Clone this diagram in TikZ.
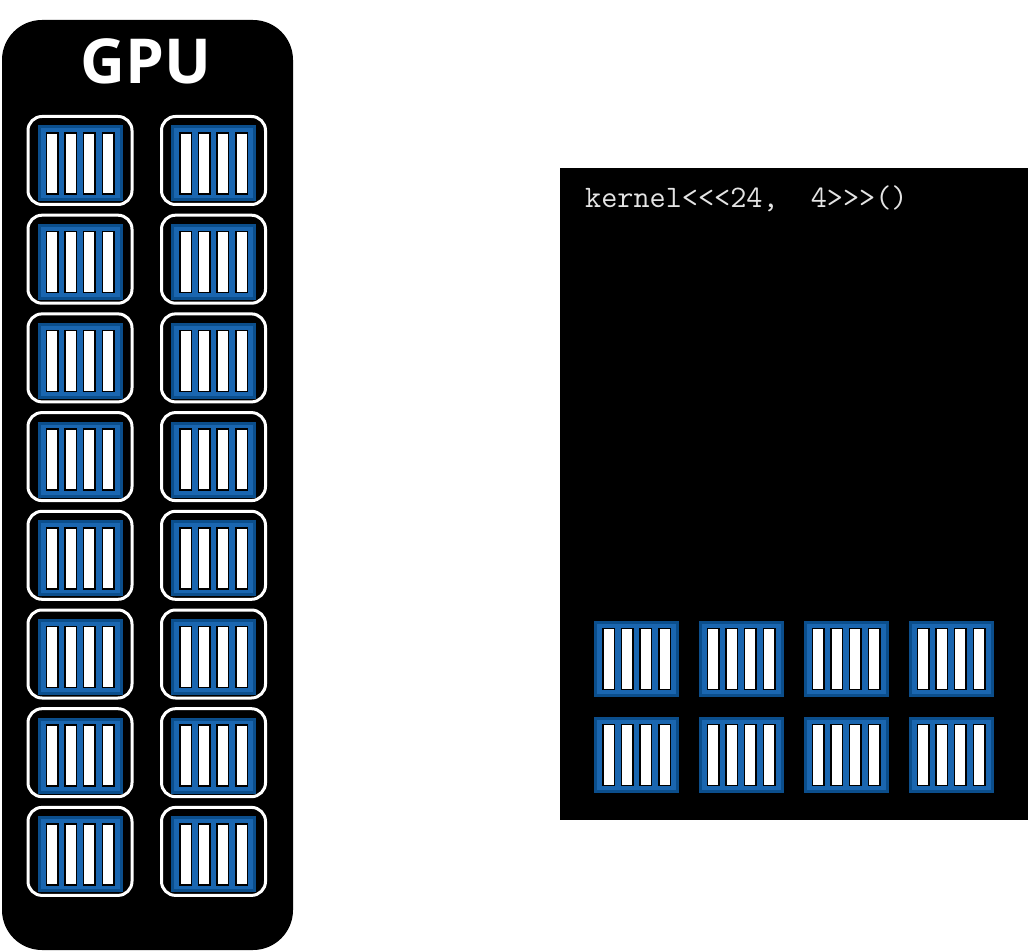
\documentclass[tikz,border=0pt]{standalone}
\usepackage{fontspec}
\newfontfamily\gpufont{Open Sans}
\definecolor{smblue}{HTML}{1A66B0}
\definecolor{smedge}{HTML}{0B4E8C}
\definecolor{codegray}{HTML}{E4E4E4}
\tikzstyle{gpu} = [fill=black, rounded corners=40pt, minimum width=291pt, minimum height=930pt, inner sep=0]
\tikzstyle{grid} = [fill=black, minimum width=468pt, minimum height=652pt, inner sep=0]
\tikzstyle{sm} = [draw=white, line width=3pt, rounded corners=14pt, minimum width=104pt, minimum height=88pt, inner sep=0]
\tikzstyle{block} = [draw=smedge, fill=smblue, line width=3pt, minimum width=82pt, minimum height=73pt, inner sep=0]
\tikzstyle{lane} = [draw=black, fill=white, line width=1.5pt, minimum width=11.5pt, minimum height=61pt, inner sep=0]

\begin{document}
\begin{tikzpicture}[x=1pt, y=-1pt]
\useasboundingbox (0,0) rectangle (1028,952);

\node (gpu) [gpu] at (147.5,485) {};
\node (gputitle) [text=white, font=\gpufont\bfseries\fontsize{62}{62}\selectfont] at (146,61) {GPU};

% streaming multiprocessors
\foreach \c/\x in {0/80, 1/213.5} {
  \foreach \r in {0,...,7} {
    \node (sm-\c-\r) [sm] at (\x,160.5+98.7*\r) {};
    \node (core-\c-\r) [block, yshift=-3pt] at (sm-\c-\r) {};
    \foreach \dx in {-28,-9.3,9.3,28}
      \node [lane, xshift=\dx pt] at (core-\c-\r) {};
  }
}

% launched blocks
\node (grid) [grid] at (794,494) {};
\node (launch) [anchor=base west, text=codegray, inner sep=0, font=\ttfamily\fontsize{31.3}{31.3}\selectfont] at (585,208) {kernel<<<24,\ \ 4>>>()};

\foreach \r/\y in {0/659, 1/755} {
  \foreach \c/\x in {0/636.5, 1/741, 2/846, 3/951} {
    \node (warp-\r-\c) [block] at (\x,\y) {};
    \foreach \dx in {-28,-9.3,9.3,28}
      \node [lane, xshift=\dx pt] at (warp-\r-\c) {};
  }
}

\end{tikzpicture}
\end{document}
